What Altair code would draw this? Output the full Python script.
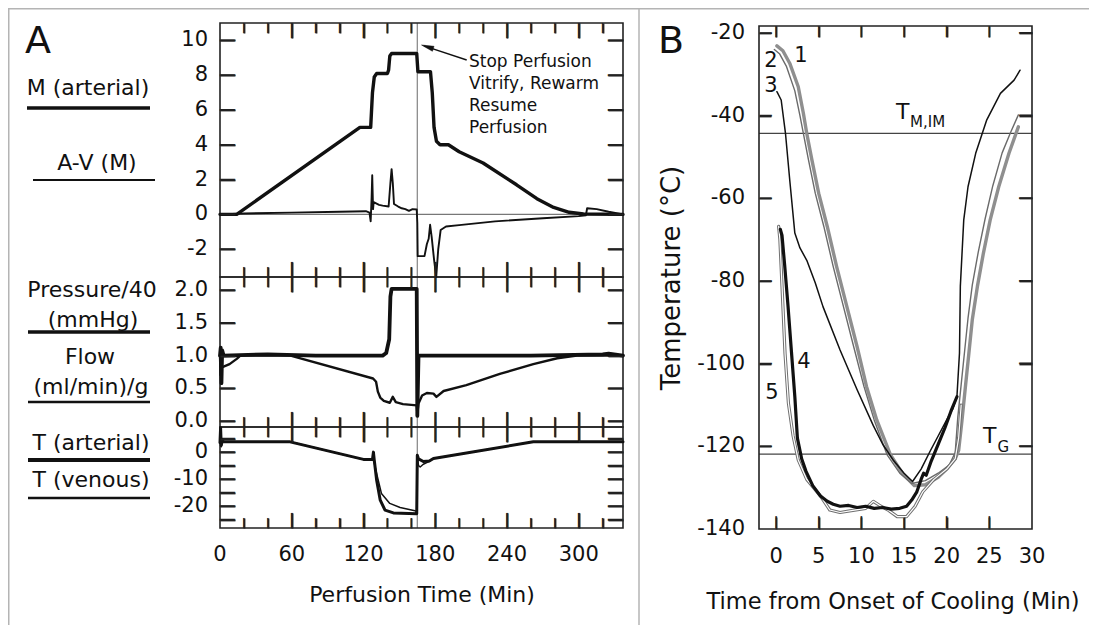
import altair as alt
import pandas as pd

FONT = "DejaVu Sans"
INK = "#111111"
FRAME = "#222222"

# ---------------- Panel A data (time in min) ----------------
M_ART_T = [0, 14, 117, 126, 127.5, 129, 131, 140, 141, 142, 143.5, 164.5, 165.5, 176, 177.5, 179, 181, 184, 191,
           200, 220, 248, 265, 279, 292, 304, 337]
M_ART_V = [0, 0, 5.0, 5.0, 7.0, 7.9, 8.1, 8.1, 8.3, 9.1, 9.25, 9.25, 8.2, 8.2, 7.0, 5.0, 4.2, 4.0, 4.0,
           3.6, 2.95, 1.7, 0.9, 0.4, 0.12, 0.02, 0]

AV_T = [0, 20, 60, 100, 122, 125, 126, 126.8, 127.3, 128, 128.5, 133, 136, 141, 142.5, 143.5, 144.5, 145.5, 149,
        152, 155, 158, 161, 164.5, 165, 165.3, 171, 173, 174.5, 175.7, 177, 179, 180.8, 182.5, 184.5, 189, 200,
        230, 270, 300, 306, 307, 315, 325, 337]
AV_V = [0, 0.05, 0.1, 0.15, 0.18, 0.1, -0.4, 1.0, 2.25, 0.3, 0.7, 0.55, 0.5, 0.45, 1.8, 2.6, 1.8, 0.6, 0.45,
        0.35, 0.3, 0.2, 0.3, 0.28, -0.5, -2.4, -2.4, -1.7, -1.4, -0.6, -1.3, -2.6, -3.6, -2.0, -0.9, -0.7, -0.62,
        -0.4, -0.22, -0.1, -0.05, 0.35, 0.3, 0.15, 0.0]

PRES_T = [0, 0.6, 1.2, 1.8, 3, 40, 80, 120, 136, 139, 141.5, 142.5, 143.5, 164.5, 165, 166, 200, 260, 320, 325, 337]
PRES_V = [1.0, 1.12, 0.58, 1.08, 1.0, 1.02, 1.0, 1.0, 1.0, 1.04, 1.25, 1.9, 2.02, 2.02, 0.08, 1.0, 1.0, 1.0, 1.02,
          1.03, 1.0]

FLOW_T = [0, 0.5, 1.5, 8, 14, 17, 59, 128, 130.5, 132, 134, 137, 142, 144.5, 147, 153, 164.5, 165, 166, 169, 173,
          178.5, 181, 187, 206, 234, 262, 282, 298.5, 337]
FLOW_V = [1.0, 0.7, 0.82, 0.87, 0.95, 1.0, 1.0, 0.65, 0.6, 0.45, 0.36, 0.31, 0.28, 0.37, 0.29, 0.26, 0.24, 0.12,
          0.27, 0.39, 0.43, 0.42, 0.37, 0.46, 0.55, 0.72, 0.87, 0.96, 1.0, 1.0]

TART_T = [0, 0.5, 1, 2, 3, 58.6, 120, 127.5, 128.3, 129, 131, 134, 138, 145, 164.5, 165, 166, 170, 175, 178.5, 262, 337]
TART_V = [3.5, 9, 2.5, 4.5, 3.8, 3.8, -2.7, -2.7, 0, -3, -10.4, -17.8, -21.5, -22.5, -22.8, -1.2, -2.5, -3.5, -3.3,
          -2.35, 3.8, 3.8]

TVEN_T = [0, 0.5, 1, 2, 3, 58.6, 120, 128, 129, 131, 135, 142, 150.6, 163, 164.6, 165, 166, 167.4, 170, 175, 178.5,
          262, 337]
TVEN_V = [3.5, 8, 2, 4, 3.8, 3.8, -2.7, -2.7, -4, -8, -15.3, -19, -20.5, -21.7, -21.9, -1.5, -5, -5.5, -4.5, -3.4,
          -2.35, 3.8, 3.8]

A_X_MAJOR = [0, 60, 120, 180, 240, 300]
A_X_MINOR = [20, 40, 80, 100, 140, 160, 200, 220, 260, 280, 320]
A_X_LABELS = ["0", "60", "120", "180", "240", "300"]
A1_Y_TICKS = [10, 8, 6, 4, 2, 0, -2]
A1_Y_LABELS = ["10", "8", "6", "4", "2", "0", "-2"]
A2_Y_TICKS = [2.0, 1.5, 1.0, 0.5, 0.0]
A2_Y_LABELS = ["2.0", "1.5", "1.0", "0.5", "0.0"]
A3_Y_TICKS = [5, 0, -5, -10, -15, -20, -25]
A3_Y_LABVALS = [0, -10, -20]
A3_Y_LABELS = ["0", "-10", "-20"]
STOP_T = 165

# ---------------- Panel B data ----------------
C1_T = [0.1, 0.8, 1.6, 2.6, 3.2, 3.6, 4.2, 5.0, 6.0, 7.1, 8.3, 9.5, 10.6, 11.8, 13.4, 14.8, 16.2, 17.5, 19.0, 20.0,
        21.0, 21.4, 21.8, 22.2, 22.6, 23.0, 23.6, 24.3, 25.1, 26.1, 27.3, 28.4]
C1_V = [-23.1, -24.3, -27.3, -33.0, -39.4, -44.3, -50.7, -58.8, -66.8, -76.5, -86.2, -95.9, -105.5, -113.6, -122.0,
        -126.5, -129.5, -129.3, -127.5, -125.5, -123.0, -121.0, -113.6, -105.5, -97.5, -89.4, -81.3, -73.3, -65.2,
        -57.2, -49.1, -42.7]

C2_T = [-0.2, 0.4, 1.2, 2.2, 2.8, 3.2, 3.8, 4.6, 5.6, 6.7, 7.9, 9.1, 10.3, 11.5, 13.0, 14.5, 15.9, 17.5, 19.0, 20.3,
        21.0, 21.3, 21.7, 22.1, 22.5, 23.0, 23.7, 24.5, 25.4, 26.5, 27.5, 28.4]
C2_V = [-24.0, -25.0, -28.0, -34.0, -40.0, -44.3, -50.7, -58.8, -66.8, -76.5, -86.2, -95.9, -105.5, -113.6, -122.0,
        -126.5, -129.0, -128.3, -126.5, -124.5, -121.5, -113.0, -105.0, -97.0, -89.0, -81.0, -73.0, -65.0, -57.0,
        -49.0, -44.0, -39.8]

C3_T = [0.1, 0.6, 1.1, 1.6, 2.2, 2.8, 3.6, 4.6, 5.5, 7.5, 9.5, 11.4, 12.5, 13.8, 15.0, 16.0, 17.0, 18.1, 19.0, 20.0,
        20.7, 21.2, 21.5, 21.6, 22.0, 22.5, 23.4, 24.7, 26.3, 27.9, 28.6]
C3_V = [-34.2, -36.2, -44.2, -55.5, -68.4, -72.0, -75.0, -80.5, -86.2, -96.7, -106.3, -115.0, -119.5, -123.5,
        -126.5, -128.5, -125.5, -121.0, -117.5, -113.6, -111.0, -108.0, -97.4, -81.3, -65.2, -57.2, -49.1, -41.0,
        -34.6, -31.4, -29.0]

C4_T = [0.5, 0.7, 1.0, 1.4, 1.8, 2.2, 2.5, 3.0, 3.5, 4.3, 5.2, 6.0, 6.7, 7.5, 8.5, 9.5, 10.5, 11.5, 12.5, 13.5, 14.5,
        15.3, 15.9, 16.5, 17.0, 17.3, 17.6, 18.2, 19.0, 19.8, 20.5, 21.2]
C4_V = [-67.5, -69.0, -76.0, -86.0, -97.0, -108.0, -118.0, -123.0, -126.0, -129.5, -132.0, -133.3, -134.0, -134.5,
        -134.3, -134.8, -134.5, -135.0, -134.8, -135.2, -135.0, -134.5, -133.0, -131.0, -128.0, -126.5, -127.0,
        -123.5, -119.5, -115.5, -111.5, -108.0]

C5_T = [0.3, 0.45, 0.7, 1.05, 1.45, 2.0, 2.6, 3.6, 5.2, 6.3, 7.5, 9.0, 10.5, 11.4, 12.3, 13.2, 14.2, 15.3, 16.3,
        17.2, 18.5, 20.0, 21.0, 21.4, 21.7]
C5_V = [-66.8, -70.0, -81.3, -97.5, -109.6, -117.5, -123.3, -128.0, -132.0, -135.4, -136.0, -135.5, -135.0, -133.3,
        -134.5, -135.5, -137.0, -137.0, -134.5, -131.0, -128.0, -125.5, -123.0, -118.0, -110.0]

B_X_TICKS = [0, 5, 10, 15, 20, 25, 30]
B_X_LABELS = ["0", "5", "10", "15", "20", "25", "30"]
B_Y_TICKS = [-20, -40, -60, -80, -100, -120, -140]
B_Y_LABELS = ["-20", "-40", "-60", "-80", "-100", "-120", "-140"]
T_MIM = -44.3
T_G = -121.9

# ---------------- canvas and scales (pixel ranges inside one canvas) ----------------
W, H = 1081, 617
TICK_W = 1.8
GLYPH = "\u2503"   # heavy vertical bar used as a tick glyph
GLYPH_H = 1.164    # glyph height in em for DejaVu Sans box drawing


def S(dom, rng):
    return alt.Scale(domain=dom, range=rng, nice=False, zero=False)

XA_D, XA_R = [0, 337], [212, 615]
YA1_D, YA1_R = [-3.6, 11], [269, 15]
YA2_D, YA2_R = [-0.09, 2.2], [419, 269]
YA3_D, YA3_R = [-28.1, 9.3], [520, 419]
XB_D, XB_R = [-2, 30], [751, 1024]
YB_D, YB_R = [-140, -18.3], [521, 18]
XA, YA1, YA2, YA3 = S(XA_D, XA_R), S(YA1_D, YA1_R), S(YA2_D, YA2_R), S(YA3_D, YA3_R)
XB, YB = S(XB_D, XB_R), S(YB_D, YB_R)

ONE = pd.DataFrame({"a": [0]})


def line(t, v, xs, ys, color, w, opacity=1.0):
    df = pd.DataFrame({"t": t, "v": v, "i": list(range(len(t)))})
    return alt.Chart(df).mark_line(color=color, strokeWidth=w, strokeJoin="round", strokeCap="round",
                                   opacity=opacity).encode(
        x=alt.X("t:Q", scale=xs, axis=None),
        y=alt.Y("v:Q", scale=ys, axis=None),
        order=alt.Order("i:Q"))


def tick_axis(kw):
    return alt.Axis(labels=False, domain=False, grid=False, ticks=True, title="", tickColor=FRAME,
                    tickWidth=TICK_W, tickOpacity=1, zindex=2, **kw)


def xtick_layers(vals, xs, edge_y, length, inward_down):
    """Inward ticks along a horizontal panel edge: an axis of the panel's x scale plus bar glyphs."""
    if inward_down:
        kw = dict(orient="bottom", offset=edge_y - H)
        center = edge_y + length / 2
    else:
        kw = dict(orient="top", offset=-edge_y)
        center = edge_y - length / 2
    kw.update(values=vals, tickSize=length)
    fs = length / GLYPH_H
    return [
        alt.Chart(pd.DataFrame({"t": vals})).mark_rule(opacity=0, strokeOpacity=0).encode(
            x=alt.X("t:Q", scale=xs, axis=tick_axis(kw))),
        alt.Chart(pd.DataFrame({"t": vals})).mark_text(font=FONT, fontSize=fs, align="center",
                                                      baseline="middle", color=FRAME).encode(
            x=alt.X("t:Q", scale=xs, axis=None), y=alt.value(center + 0.046 * fs), text=alt.value(GLYPH)),
    ]


def ytick_layers(vals, ys, edge_x, length, inward_right):
    """Inward ticks along a vertical panel edge: an axis of the panel's y scale plus rotated bar glyphs."""
    if inward_right:
        kw = dict(orient="right", offset=edge_x - W)
        center = edge_x + length / 2
    else:
        kw = dict(orient="left", offset=-edge_x)
        center = edge_x - length / 2
    kw.update(values=vals, tickSize=length)
    fs = length / GLYPH_H
    return [
        alt.Chart(pd.DataFrame({"v": vals})).mark_rule(opacity=0, strokeOpacity=0).encode(
            y=alt.Y("v:Q", scale=ys, axis=tick_axis(kw))),
        alt.Chart(pd.DataFrame({"v": vals})).mark_text(font=FONT, fontSize=fs, align="center",
                                                      baseline="middle", angle=90, color=FRAME).encode(
            y=alt.Y("v:Q", scale=ys, axis=None), x=alt.value(center - 0.046 * fs), text=alt.value(GLYPH)),
    ]


def frame(xd, yd, xs, ys):
    df = pd.DataFrame({"x0": [xd[0]], "x1": [xd[1]], "y0": [yd[0]], "y1": [yd[1]]})
    return alt.Chart(df).mark_rect(fill="white", fillOpacity=0, stroke=FRAME, strokeWidth=1.6).encode(
        x=alt.X("x0:Q", scale=xs, axis=None), x2="x1:Q",
        y=alt.Y("y0:Q", scale=ys, axis=None), y2="y1:Q")


def ylabels(vals, labs, ys, xpos, size=21):
    df = pd.DataFrame({"v": vals, "lab": labs})
    return alt.Chart(df).mark_text(font=FONT, fontSize=size, align="right", baseline="middle", color=INK).encode(
        y=alt.Y("v:Q", scale=ys, axis=None), x=alt.value(xpos), text="lab:N")


def xlabels(vals, labs, xs, ypos, size=21):
    df = pd.DataFrame({"t": vals, "lab": labs})
    return alt.Chart(df).mark_text(font=FONT, fontSize=size, align="center", baseline="middle", color=INK).encode(
        x=alt.X("t:Q", scale=xs, axis=None), y=alt.value(ypos), text="lab:N")


def hline(val, xd, xs, ys, color, w):
    df = pd.DataFrame({"v": [val], "a": [xd[0]], "b": [xd[1]]})
    return alt.Chart(df).mark_rule(color=color, strokeWidth=w).encode(
        y=alt.Y("v:Q", scale=ys, axis=None), x=alt.X("a:Q", scale=xs, axis=None), x2="b:Q")


def label(text, x, y, size=22, align="center", baseline="middle", angle=None, color=INK, **extra):
    kw = dict(font=FONT, fontSize=size, align=align, baseline=baseline, color=color)
    if angle is not None:
        kw["angle"] = angle
    kw.update(extra)
    return alt.Chart(ONE).mark_text(**kw).encode(x=alt.value(x), y=alt.value(y), text=alt.value(text))


def seg(x0, y0, x1, y1, color, w):
    return alt.Chart(ONE).mark_rule(color=color, strokeWidth=w).encode(
        x=alt.value(x0), y=alt.value(y0), x2=alt.value(x1), y2=alt.value(y1))


layers = []

# outer figure border and separator
layers += [seg(0, 0.75, W, 0.75, "#b4b4b4", 1.5),
           seg(0.75, 0, 0.75, H, "#b4b4b4", 1.5),
           seg(631, 0, 631, H, "#b4b4b4", 1.5)]

# ---------------- Panel A ----------------
layers.append(hline(0, XA_D, XA, YA1, "#777777", 1.1))
layers.append(alt.Chart(pd.DataFrame({"t": [STOP_T]})).mark_rule(color="#8c8c8c", strokeWidth=1.3).encode(
    x=alt.X("t:Q", scale=XA, axis=None), y=alt.value(15), y2=alt.value(520)))

for yd, yr, ys, ytk in [(YA1_D, YA1_R, YA1, A1_Y_TICKS),
                        (YA2_D, YA2_R, YA2, A2_Y_TICKS),
                        (YA3_D, YA3_R, YA3, A3_Y_TICKS)]:
    top, bot = yr[1], yr[0]
    layers.append(frame(XA_D, yd, XA, ys))
    layers += xtick_layers(A_X_MAJOR[1:], XA, top, 15, True)
    layers += xtick_layers(A_X_MINOR, XA, top, 10, True)
    layers += xtick_layers(A_X_MAJOR[1:], XA, bot, 15, False)
    layers += xtick_layers(A_X_MINOR, XA, bot, 10, False)
    layers += ytick_layers(ytk, ys, XA_R[0], 15, True)
    layers += ytick_layers(ytk, ys, XA_R[1], 15, False)

layers.append(line(AV_T, AV_V, XA, YA1, INK, 1.9))
layers.append(line(M_ART_T, M_ART_V, XA, YA1, INK, 3.4))
layers.append(line(FLOW_T, FLOW_V, XA, YA2, INK, 2.4))
layers.append(line(PRES_T, PRES_V, XA, YA2, INK, 3.8))
layers.append(line(TVEN_T, TVEN_V, XA, YA3, INK, 1.5))
layers.append(line(TART_T, TART_V, XA, YA3, INK, 3.0))

layers.append(ylabels(A1_Y_TICKS, A1_Y_LABELS, YA1, 200))
layers.append(ylabels(A2_Y_TICKS, A2_Y_LABELS, YA2, 200))
layers.append(ylabels(A3_Y_LABVALS, A3_Y_LABELS, YA3, 200))
layers.append(xlabels(A_X_MAJOR, A_X_LABELS, XA, 547))
layers.append(label("Perfusion Time (Min)", 414, 587))

layers += [label("M (arterial)", 80, 80), seg(19, 100, 142, 100, INK, 3.5),
           label("A-V (M)", 89, 155), seg(25, 172, 147, 172, INK, 2.2),
           label("Pressure/40", 84, 282), label("(mmHg)", 85, 312), seg(20, 324, 142, 324, INK, 3.5),
           label("Flow", 82, 349), label("(ml/min)/g", 83, 379), seg(20, 394, 142, 394, INK, 2.5),
           label("T (arterial)", 83, 435), seg(20, 452, 142, 452, INK, 4.0),
           label("T (venous)", 83, 472), seg(20, 490, 142, 490, INK, 2.5)]

layers.append(label(["Stop Perfusion", "Vitrify, Rewarm", "Resume", "Perfusion"], 461, 58.5, size=17,
                    align="left", baseline="alphabetic", lineHeight=22.3))
layers.append(seg(458.7, 52, 416, 37.8, INK, 1.4))
layers.append(alt.Chart(ONE).mark_point(shape="M0,-1L0.42,1L-0.42,1Z", filled=True, fill=INK, stroke=INK,
                                        strokeWidth=0.5, size=150, angle=288, opacity=1).encode(
    x=alt.value(419.4), y=alt.value(38.9)))

layers.append(label("A", 17, 45, size=38, align="left", baseline="alphabetic"))

# ---------------- Panel B ----------------
layers.append(hline(T_MIM, XB_D, XB, YB, "#444444", 1.3))
layers.append(hline(T_G, XB_D, XB, YB, "#444444", 1.3))
layers.append(frame(XB_D, YB_D, XB, YB))
layers += xtick_layers(B_X_TICKS[:-1], XB, YB_R[1], 11, True)
layers += xtick_layers(B_X_TICKS[:-1], XB, YB_R[0], 12, False)
layers += ytick_layers(B_Y_TICKS[:-1], YB, XB_R[0], 12, True)
layers += ytick_layers(B_Y_TICKS[:-1], YB, XB_R[1], 13, False)

layers.append(line(C1_T, C1_V, XB, YB, "#8f8f8f", 3.4))
layers.append(line(C2_T, C2_V, XB, YB, "#6a6a6a", 1.4))
layers.append(line(C5_T, C5_V, XB, YB, "#6f6f6f", 3.2))
layers.append(line(C5_T, C5_V, XB, YB, "#ffffff", 1.2))
layers.append(line(C3_T, C3_V, XB, YB, INK, 1.5))
layers.append(line(C4_T, C4_V, XB, YB, INK, 3.2))

layers.append(ylabels(B_Y_TICKS, B_Y_LABELS, YB, 737))
layers.append(xlabels(B_X_TICKS, B_X_LABELS, XB, 549))
layers.append(label("Time from Onset of Cooling (Min)", 885, 594, size=22.5))
layers.append(label("Temperature (°C)", 664, 270, size=26, angle=270))

layers += [label("1", 793, 48, size=21), label("2", 763, 53, size=21), label("3", 763, 78, size=21),
           label("4", 796, 354, size=21), label("5", 764, 385, size=21)]
layers += [label("T", 888, 110.5, size=22, align="left", baseline="alphabetic"),
           label("M,IM", 902, 119, size=15, align="left", baseline="alphabetic"),
           label("T", 975, 435, size=22, align="left", baseline="alphabetic"),
           label("G", 989.5, 444, size=15, align="left", baseline="alphabetic")]

layers.append(label("B", 650, 45, size=38, align="left", baseline="alphabetic"))

chart = alt.layer(*layers).resolve_scale(x="independent", y="independent").resolve_axis(
    x="independent", y="independent").properties(
    width=W, height=H, padding=0, background="white",
    autosize=alt.AutoSizeParams(type="none")
).configure_view(stroke=None)

chart.save("out.html", embed_options={"renderer": "svg", "actions": False})
